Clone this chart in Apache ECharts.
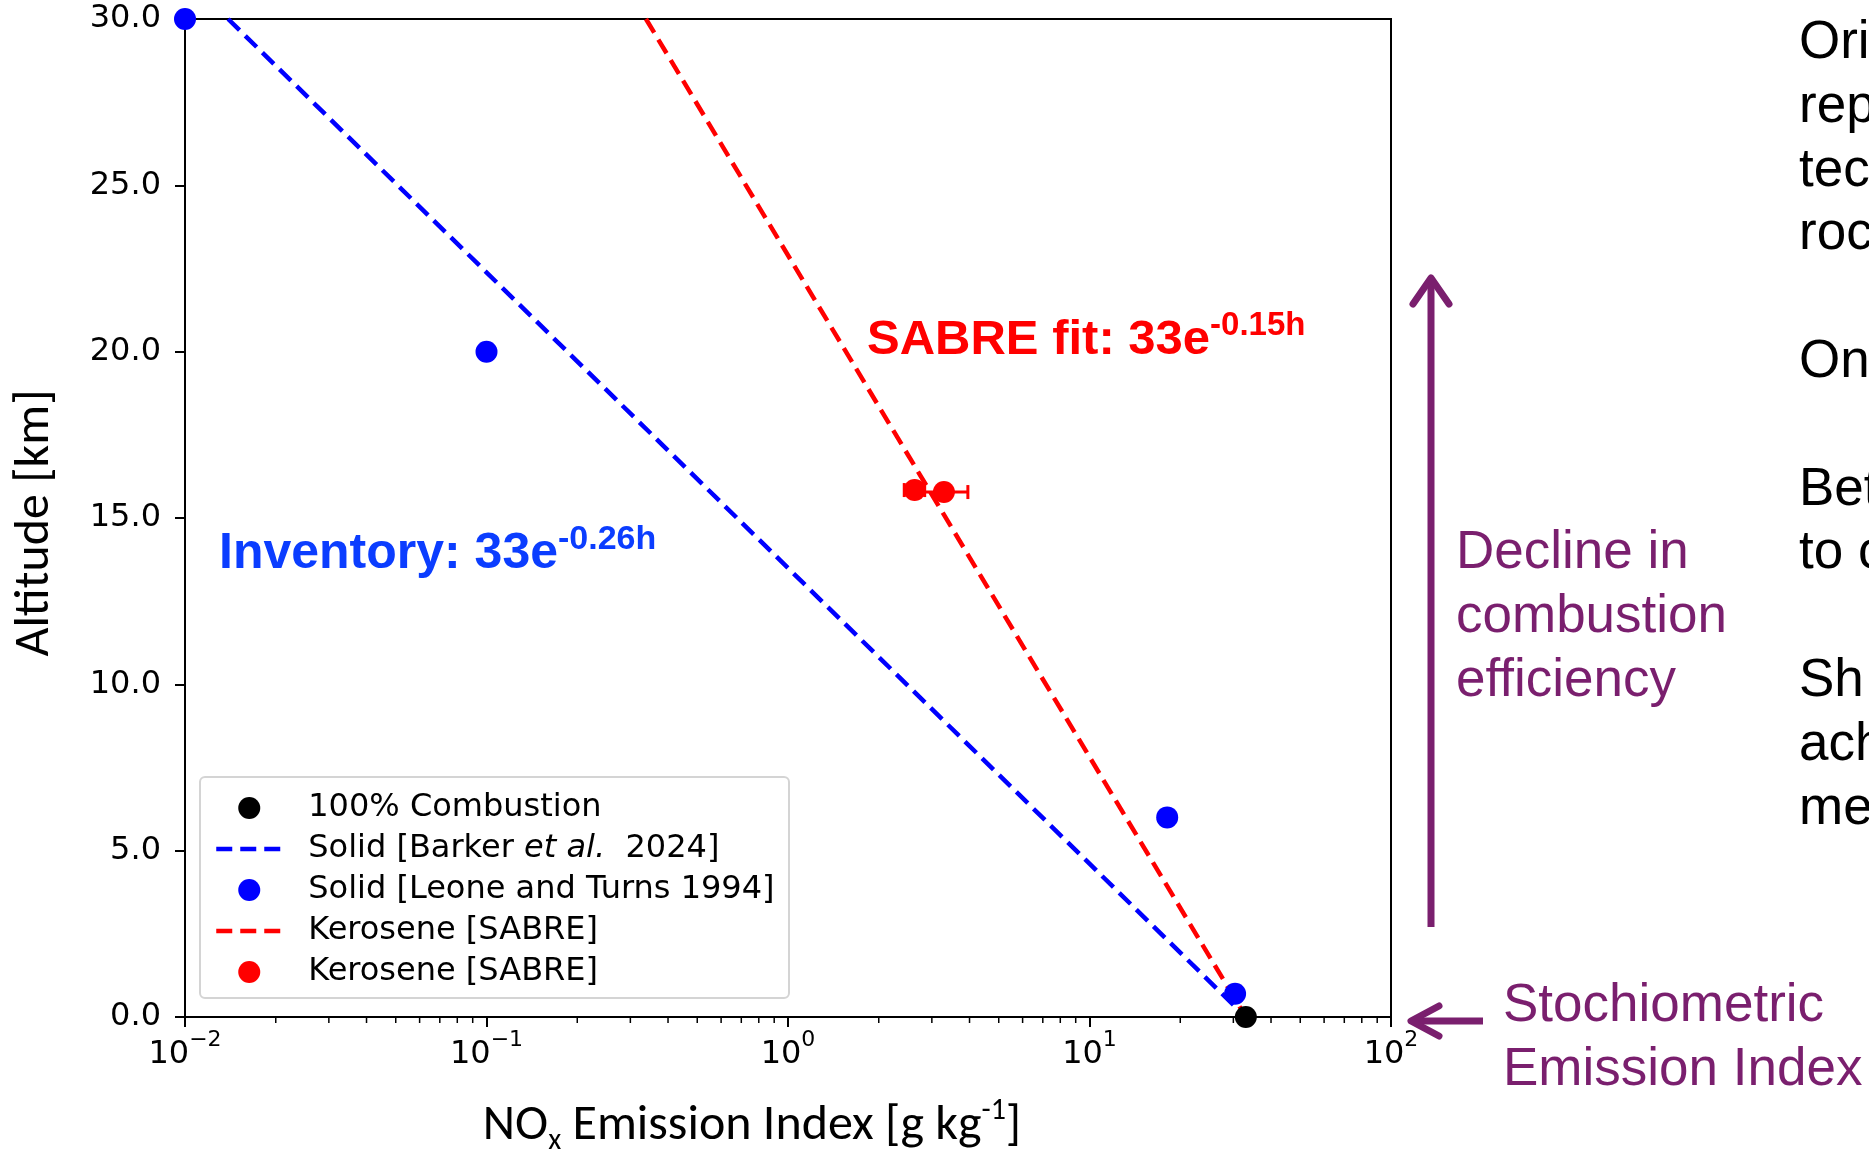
<!DOCTYPE html>
<html><head><meta charset="utf-8">
<script src="https://cdn.jsdelivr.net/npm/echarts@6/dist/echarts.min.js"></script>
<style>html,body{margin:0;padding:0;background:#fff;overflow:hidden}#c{width:1869px;height:1151px}</style>
</head><body><div id="c"></div>
<script>
// ---- data ----
const seriesNames = ['100% Combustion', 'Solid [Barker et al. 2024]', 'Solid [Leone and Turns 1994]', 'Kerosene [SABRE]', 'Kerosene [SABRE] '];
const combustionX = [33.0];
const combustionY = [0.0];
const barkerFitX = [0.0139, 33.0];
const barkerFitY = [30.0, 0.0];
const leoneX = [0.01, 0.1, 18.1, 30.4];
const leoneY = [30.0, 20.0, 6.0, 0.7];
const sabreFitX = [0.338, 33.0];
const sabreFitY = [30.0, 0.0];
const sabreX = [2.63, 3.29];
const sabreY = [15.84, 15.78];
const sabreXLow = [2.43, 2.74];
const sabreXHigh = [2.84, 3.95];
const xTickExponents = [-2, -1, 0, 1, 2];
const yTickLabels = ['0.0', '5.0', '10.0', '15.0', '20.0', '25.0', '30.0'];
const sideText = ['Ori', 'rep', 'tec', 'roc', '', 'On', '', 'Bet', 'to c', '', 'Sh', 'ach', 'me'];
const declineText = ['Decline in', 'combustion', 'efficiency'];
const stochText = ['Stochiometric', 'Emission Index'];

const zip = (xs, ys) => xs.map((x, i) => [x, ys[i]]);
const minorTickValues = [];
for (let e = -2; e < 2; e++) for (let m = 2; m <= 9; m++) minorTickValues.push([m * Math.pow(10, e), 0]);

const PURPLE = '#7a1f6e';
const MPL = 'DejaVu Sans';
const CAL = 'Carlito, Lato, sans-serif';
const ARIAL = 'Arial, "Liberation Sans", sans-serif';
const DASH = [16, 8];

const chart = echarts.init(document.getElementById('c'), null, {renderer: 'canvas'});
const option = {
  backgroundColor: '#fff',
  animation: false,
  grid: {left: 185, right: 478, top: 19, bottom: 134, show: true, borderColor: '#000', borderWidth: 2,
    backgroundColor: 'transparent', containLabel: false, outerBoundsMode: 'none'},
  xAxis: {
    type: 'log', logBase: 10, min: 0.01, max: 100,
    axisLine: {show: true, onZero: false, lineStyle: {color: '#000', width: 2}},
    axisTick: {show: true, length: 10, lineStyle: {color: '#000', width: 2}},
    splitLine: {show: false}, minorTick: {show: false},
    axisLabel: {
      margin: 12, color: '#000',
      formatter: function (v) {
        const e = Math.round(Math.log10(v));
        if (xTickExponents.indexOf(e) < 0) return '';
        return '{b|10}{s|' + (e < 0 ? '\u2212' + (-e) : e) + '}';
      },
      rich: {
        b: {fontFamily: MPL, fontSize: 32, color: '#000', lineHeight: 42, verticalAlign: 'bottom'},
        s: {fontFamily: MPL, fontSize: 22, color: '#000', lineHeight: 23, verticalAlign: 'top'}
      }
    },
    name: '{a|NO}{sub|x}{a| Emission Index [g kg}{sup|-1}{a|]}',
    nameLocation: 'middle', nameGap: 79,
    nameTextStyle: {
      padding: [0, 72, 0, 0],
      rich: {
        a: {fontFamily: CAL, fontSize: 50, color: '#000', lineHeight: 60, verticalAlign: 'middle'},
        sub: {fontFamily: CAL, fontSize: 30, color: '#000', lineHeight: 30, verticalAlign: 'bottom'},
        sup: {fontFamily: CAL, fontSize: 30, color: '#000', lineHeight: 30, verticalAlign: 'top'}
      }
    }
  },
  yAxis: {
    type: 'value', min: 0, max: 30, interval: 5,
    axisLine: {show: true, onZero: false, lineStyle: {color: '#000', width: 2}},
    axisTick: {show: true, length: 10, lineStyle: {color: '#000', width: 2}},
    splitLine: {show: false},
    axisLabel: {margin: 24, color: '#000', fontFamily: MPL, fontSize: 32,
      formatter: v => yTickLabels[Math.round(v / 5)]},
    name: 'Altitude [km]', nameLocation: 'middle', nameGap: 125,
    nameTextStyle: {fontFamily: CAL, fontSize: 50, color: '#000', padding: [0, 10, 0, 0]}
  },
  legend: {
    orient: 'vertical', left: 214, top: 792, padding: 0, itemGap: 9,
    itemWidth: 66, itemHeight: 22, selectedMode: false, z: 4,
    data: [
      {name: seriesNames[0], icon: 'circle'},
      {name: seriesNames[1], itemStyle: {opacity: 0}, lineStyle: {width: 4.5, type: DASH}},
      {name: seriesNames[2], icon: 'circle'},
      {name: seriesNames[3], itemStyle: {opacity: 0}, lineStyle: {width: 4.5, type: DASH}},
      {name: seriesNames[4], icon: 'circle'}
    ],
    formatter: function (name) {
      const n = name.trim();
      if (n === 'Solid [Barker et al. 2024]') return '{n|Solid [Barker }{i|et al.}{n|  2024]}';
      return '{n|' + n + '}';
    },
    textStyle: {
      color: '#000', fontFamily: MPL, fontSize: 32, padding: [0, 0, 0, 21],
      rich: {
        n: {fontFamily: MPL, fontSize: 32, color: '#000', lineHeight: 34},
        i: {fontFamily: MPL, fontSize: 32, fontStyle: 'italic', color: '#000', lineHeight: 34}
      }
    }
  },
  graphic: [
    {type: 'rect', z: 3, shape: {x: 200, y: 777, width: 589, height: 221, r: 5},
      style: {fill: 'rgba(255,255,255,0.85)', stroke: '#d4d4d4', lineWidth: 2}},
    {type: 'text', z: 20, x: 867, y: 309, style: {
      text: '{m|SABRE fit: 33e}{s|-0.15h}', verticalAlign: 'top', align: 'left',
      rich: {
        m: {fontFamily: ARIAL, fontWeight: 'bold', fontSize: 49, fill: '#ff0000', lineHeight: 56, verticalAlign: 'bottom'},
        s: {fontFamily: ARIAL, fontWeight: 'bold', fontSize: 33, fill: '#ff0000', lineHeight: 40, verticalAlign: 'top'}
      }}},
    {type: 'text', z: 20, x: 219, y: 523, style: {
      text: '{m|Inventory: 33e}{s|-0.26h}', verticalAlign: 'top', align: 'left',
      rich: {
        m: {fontFamily: ARIAL, fontWeight: 'bold', fontSize: 50, fill: '#0b3dff', lineHeight: 56, verticalAlign: 'bottom'},
        s: {fontFamily: ARIAL, fontWeight: 'bold', fontSize: 34, fill: '#0b3dff', lineHeight: 40, verticalAlign: 'top'}
      }}},
    {type: 'line', z: 20, shape: {x1: 1431, y1: 927, x2: 1431, y2: 280}, style: {stroke: PURPLE, lineWidth: 7}},
    {type: 'polyline', z: 20, shape: {points: [[1413, 304], [1431, 278], [1449, 304]]},
      style: {stroke: PURPLE, lineWidth: 7, lineCap: 'round', lineJoin: 'round', fill: null}},
    {type: 'line', z: 20, shape: {x1: 1412, y1: 1021, x2: 1483, y2: 1021}, style: {stroke: PURPLE, lineWidth: 7}},
    {type: 'polyline', z: 20, shape: {points: [[1439, 1006], [1411, 1021], [1439, 1036]]},
      style: {stroke: PURPLE, lineWidth: 7, lineCap: 'round', lineJoin: 'round', fill: null}},
    {type: 'text', z: 20, x: 1456, y: 521.6, style: {
      text: declineText.join('\n'), fill: PURPLE, fontFamily: ARIAL, fontSize: 53, lineHeight: 64, verticalAlign: 'top', align: 'left'}},
    {type: 'text', z: 20, x: 1503, y: 974, style: {
      text: stochText.join('\n'), fill: PURPLE, fontFamily: ARIAL, fontSize: 53, lineHeight: 64, verticalAlign: 'top', align: 'left'}},
    {type: 'text', z: 20, x: 1799, y: 11.5, style: {
      text: sideText.join('\n'), fill: '#000', fontFamily: ARIAL, fontSize: 53, lineHeight: 63.8, verticalAlign: 'top', align: 'left'}}
  ],
  series: [
    {name: seriesNames[1], type: 'line', data: zip(barkerFitX, barkerFitY), symbol: 'none', showSymbol: false, z: 2,
      itemStyle: {color: '#0000ff'}, lineStyle: {color: '#0000ff', width: 4.5, type: DASH}},
    {name: seriesNames[3], type: 'line', data: zip(sabreFitX, sabreFitY), symbol: 'none', showSymbol: false, z: 2,
      itemStyle: {color: '#ff0000'}, lineStyle: {color: '#ff0000', width: 4.5, type: DASH}},
    {name: 'errorbars', type: 'custom', z: 5, clip: false,
      data: sabreX.map((x, i) => [x, sabreY[i], sabreXLow[i], sabreXHigh[i]]),
      renderItem: function (params, api) {
        const y = api.value(1);
        const a = api.coord([api.value(2), y]);
        const b = api.coord([api.value(3), y]);
        const st = {stroke: '#ff0000', lineWidth: 3};
        return {type: 'group', children: [
          {type: 'line', shape: {x1: a[0], y1: a[1], x2: b[0], y2: b[1]}, style: st},
          {type: 'line', shape: {x1: a[0], y1: a[1] - 7, x2: a[0], y2: a[1] + 7}, style: st},
          {type: 'line', shape: {x1: b[0], y1: b[1] - 7, x2: b[0], y2: b[1] + 7}, style: st}
        ]};
      }},
    {name: seriesNames[2], type: 'scatter', data: zip(leoneX, leoneY), symbol: 'circle', symbolSize: 22, z: 6, clip: false,
      itemStyle: {color: '#0000ff', opacity: 1}},
    {name: seriesNames[4], type: 'scatter', data: zip(sabreX, sabreY), symbol: 'circle', symbolSize: 22, z: 6, clip: false,
      itemStyle: {color: '#ff0000', opacity: 1}},
    {name: seriesNames[0], type: 'scatter', data: zip(combustionX, combustionY), symbol: 'circle', symbolSize: 22, z: 7, clip: false,
      itemStyle: {color: '#000000', opacity: 1}},
    {name: 'minorTicks', type: 'custom', z: 3, clip: false, silent: true,
      data: minorTickValues,
      renderItem: function (params, api) {
        const p = api.coord([api.value(0), 0]);
        return {type: 'line', shape: {x1: p[0], y1: p[1], x2: p[0], y2: p[1] + 6}, style: {stroke: '#000', lineWidth: 1.5}};
      }}
  ]
};
chart.setOption(option);
</script>
</body></html>
